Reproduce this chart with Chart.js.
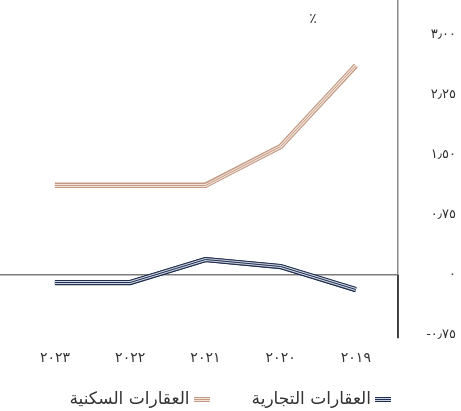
<!DOCTYPE html>
<html lang="ar">
<head>
<meta charset="utf-8">
<script src="https://cdn.jsdelivr.net/npm/chart.js@4/dist/chart.umd.min.js"></script>
<style>
  html, body { margin: 0; padding: 0; background: #ffffff; }
  #wrap { width: 461px; height: 411px; }
</style>
</head>
<body>
<div id="wrap"><canvas id="chart" width="461" height="411"></canvas></div>
<script>
// Years shown on the horizontal axis (newest on the left)
const years = [2023, 2022, 2021, 2020, 2019];
const yearLabels = ['٢٠٢٣', '٢٠٢٢', '٢٠٢١', '٢٠٢٠', '٢٠١٩'];

// Annual change, per cent
const commercial = [-0.10, -0.10, 0.19, 0.10, -0.19];
const residential = [1.12, 1.12, 1.12, 1.60, 2.61];

const seriesNames = ['العقارات التجارية', 'العقارات السكنية'];

// Vertical axis ticks
const yTickValues = [-0.75, 0, 0.75, 1.5, 2.25, 3];
const yTickLabels = ['-٠٫٧٥', '٠', '٠٫٧٥', '١٫٥٠', '٢٫٢٥', '٣٫٠٠'];

const FONT = '"DejaVu Sans", "Noto Sans", sans-serif';
const NAVY = '#1f2e4e', NAVY_LIGHT = '#cfd6e3';
const TAN = '#c39a84', TAN_LIGHT = '#f3e4da';

// Keep numeric labels in left-to-right order
const ltr = (s) => '\u202D' + s + '\u202C';

// Small striped swatch used as the legend marker
function swatch(dark, light) {
  const c = document.createElement('canvas');
  c.width = 16; c.height = 5;
  const g = c.getContext('2d');
  for (let r = 0; r < 5; r++) {
    g.fillStyle = (r % 2 === 0) ? dark : light;
    g.fillRect(0, r, 16, 1);
  }
  return c;
}

function points(vals) {
  return years.map((yr, i) => ({ x: yr, y: vals[i] }));
}

// Re-strokes each line as dark / light / dark stripes, snapped to the
// pixel grid so the flat stretches stay crisp
const stripes = {
  id: 'stripes',
  afterDatasetsDraw(chart) {
    const ctx = chart.ctx, a = chart.chartArea;
    ctx.save();
    ctx.beginPath();
    ctx.rect(a.left, a.top, a.right - a.left, a.bottom - a.top);
    ctx.clip();
    chart.data.datasets.forEach((ds, i) => {
      const meta = chart.getDatasetMeta(i);
      if (meta.hidden) return;
      const pts = meta.data;
      const path = () => {
        ctx.beginPath();
        pts.forEach((p, k) => {
          const y = Math.floor(p.y) + 0.5;
          k ? ctx.lineTo(p.x, y) : ctx.moveTo(p.x, y);
        });
      };
      ctx.lineJoin = 'miter';
      path(); ctx.lineWidth = 5; ctx.strokeStyle = ds.borderColor; ctx.stroke();
      path(); ctx.lineWidth = 3; ctx.strokeStyle = ds.lightColor; ctx.stroke();
      path(); ctx.lineWidth = 1; ctx.strokeStyle = ds.borderColor; ctx.stroke();
    });
    ctx.restore();
  }
};

// Wider letter spacing for the year labels
const spacedYears = {
  id: 'spacedYears',
  beforeDraw(chart) {
    const s = chart.scales.x;
    if (s && !s._spaced) {
      const orig = s.drawLabels.bind(s);
      s.drawLabels = function (area) {
        const ctx = chart.ctx;
        ctx.save();
        ctx.letterSpacing = '3px';
        orig(area);
        ctx.restore();
      };
      s._spaced = true;
    }
  }
};

// Percent sign near the top of the plot, and the darker part of the axis below zero
const decor = {
  id: 'decor',
  afterDraw(chart) {
    const ctx = chart.ctx, a = chart.chartArea, y = chart.scales.y;
    ctx.save();
    ctx.fillStyle = '#333';
    ctx.font = '14px ' + FONT;
    ctx.textAlign = 'center';
    ctx.textBaseline = 'middle';
    ctx.fillText('٪', a.right - 85, a.top + 19);
    const y0 = y.getPixelForValue(0);
    ctx.strokeStyle = '#222';
    ctx.lineWidth = 1.5;
    ctx.beginPath();
    ctx.moveTo(a.right, y0);
    ctx.lineTo(a.right, a.bottom);
    ctx.stroke();
    ctx.restore();
  }
};

new Chart(document.getElementById('chart'), {
  type: 'line',
  data: {
    datasets: [
      {
        label: seriesNames[0],
        data: points(commercial),
        borderColor: NAVY,
        lightColor: NAVY_LIGHT,
        borderWidth: 5,
        pointRadius: 0,
        tension: 0,
        swatch: swatch(NAVY, NAVY_LIGHT)
      },
      {
        label: seriesNames[1],
        data: points(residential),
        borderColor: TAN,
        lightColor: TAN_LIGHT,
        borderWidth: 5,
        pointRadius: 0,
        tension: 0,
        swatch: swatch(TAN, TAN_LIGHT)
      }
    ]
  },
  options: {
    responsive: false,
    animation: false,
    layout: { padding: { left: 0, right: 5, top: 0, bottom: -7 } },
    scales: {
      x: {
        type: 'linear',
        reverse: true,
        min: 2018.44,
        max: 2023.73,
        grid: { display: false },
        border: { display: false },
        afterBuildTicks(scale) { scale.ticks = years.map(v => ({ value: v })); },
        afterFit(scale) { scale.height = 49; },
        ticks: {
          padding: 4,
          color: '#333',
          font: { family: FONT, size: 14 },
          maxRotation: 0,
          autoSkip: false,
          callback: (v) => ltr(yearLabels[years.indexOf(v)])
        }
      },
      y: {
        position: 'right',
        min: -0.79,
        max: 3.43,
        afterBuildTicks(scale) { scale.ticks = yTickValues.map(v => ({ value: v })); },
        afterFit(scale) {
          scale.paddingTop = 0;
          scale.paddingBottom = 0;
          scale.width = 58;
        },
        grid: {
          drawTicks: false,
          color: (c) => (c.tick && c.tick.value === 0) ? '#7d7d7d' : 'rgba(0,0,0,0)',
          lineWidth: 1.5
        },
        border: { display: true, color: '#8a8a8a', width: 1.5 },
        ticks: {
          padding: 12,
          crossAlign: 'far',
          color: '#333',
          font: { family: FONT, size: 13 },
          callback: (v) => ltr(yTickLabels[yTickValues.indexOf(v)])
        }
      }
    },
    plugins: {
      tooltip: { enabled: false },
      legend: {
        position: 'bottom',
        rtl: true,
        textDirection: 'rtl',
        labels: {
          color: '#333',
          font: { family: FONT, size: 17 },
          usePointStyle: true,
          pointStyleWidth: 7,
          boxWidth: 7,
          boxHeight: 5,
          padding: 4,
          generateLabels(chart) {
            const n = chart.data.datasets.length;
            return chart.data.datasets.map((ds, i) => ({
              // em spaces widen the gap before the next entry
              text: ds.label + (i < n - 1 ? '\u2003\u2003\u2002' : ''),
              pointStyle: ds.swatch,
              fillStyle: ds.borderColor,
              strokeStyle: ds.borderColor,
              lineWidth: 0,
              hidden: false,
              datasetIndex: i,
              fontColor: '#333'
            }));
          }
        }
      }
    }
  },
  plugins: [stripes, spacedYears, decor]
});
</script>
</body>
</html>
